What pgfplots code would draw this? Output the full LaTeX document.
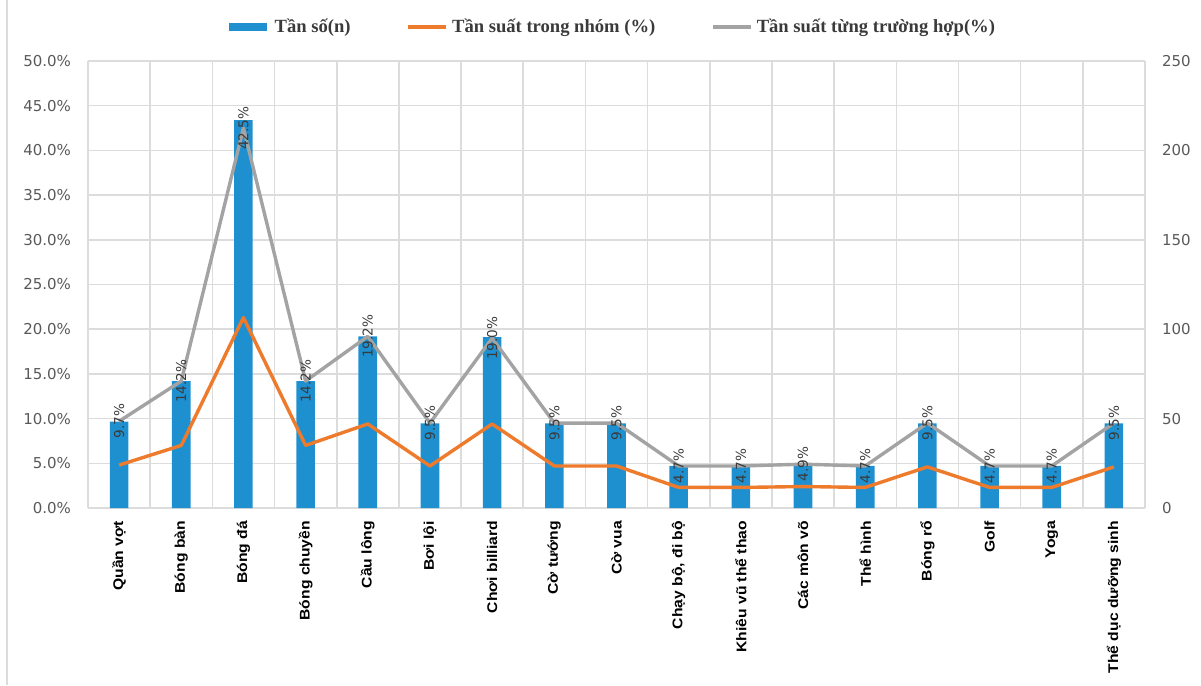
\documentclass[border=0pt]{standalone}
\usepackage{fontspec}
\usepackage{pgfplots}
\usepackage{pgfplotstable}
\pgfplotsset{compat=1.18}
\newfontfamily\ticksfont{DejaVu Sans}
\newfontfamily\xlabfont[FakeStretch=1.12]{Liberation Sans}
\newfontfamily\legfont{Liberation Serif}
\definecolor{barblue}{HTML}{1E90D0}
\definecolor{lineorange}{HTML}{EE7A2C}
\definecolor{linegrey}{HTML}{A3A3A3}
\definecolor{gridc}{HTML}{DCDCDC}
\definecolor{tickc}{HTML}{595959}
\definecolor{labc}{HTML}{3A3A3A}

\pgfplotstableread{
x n org grey
0 48.3 4.8 9.7
1 71.0 7.0 14.2
2 217.0 21.3 42.5
3 71.0 7.0 14.2
4 96.0 9.4 19.2
5 47.4 4.7 9.5
6 95.5 9.4 19.0
7 47.4 4.7 9.5
8 47.4 4.7 9.5
9 23.5 2.3 4.7
10 23.5 2.3 4.7
11 24.5 2.4 4.9
12 23.5 2.3 4.7
13 47.4 4.6 9.5
14 23.5 2.3 4.7
15 23.5 2.3 4.7
16 47.4 4.6 9.5
}\data

\begin{document}
\begin{tikzpicture}
\begin{axis}[
  name=ax,
  scale only axis, width=528.5pt, height=223.5pt,
  xmin=-0.5, xmax=16.5, ymin=0, ymax=250,
  axis y line*=right, axis x line*=bottom,
  axis line style={draw=none},
  ytick={0,50,...,250},
  minor y tick num=1,
  ymajorgrids, yminorgrids,
  xtick=data,
  minor xtick={-0.5,0.5,...,16.5},
  xminorgrids,
  major grid style={gridc, line width=0.8pt},
  minor grid style={gridc, line width=0.8pt},
  major tick length=0pt, minor tick length=0pt,
  /pgf/number format/assume math mode=true,
  yticklabel style={font=\ticksfont\fontsize{7.5}{9}\selectfont, text=tickc, xshift=5pt},
  xticklabels={Quần vợt, Bóng bàn, Bóng đá, Bóng chuyền, Cầu lông, Bơi lội, Chơi billiard, Cờ tướng, Cờ vua, {Chạy bộ, đi bộ}, Khiêu vũ thể thao, Các môn võ, Thể hình, Bóng rổ, Golf, Yoga, Thể dục dưỡng sinh},
  xticklabel style={rotate=90, anchor=east, font=\xlabfont\bfseries\fontsize{7}{8}\selectfont, text=black, yshift=0pt, xshift=-3pt},
]
\addplot[ybar, bar width=9.3pt, fill=barblue, draw=none] table[x=x, y=n] {\data};
\end{axis}
\begin{axis}[
  scale only axis, width=528.5pt, height=223.5pt,
  xmin=-0.5, xmax=16.5, ymin=0, ymax=50,
  axis y line*=left, axis x line=none,
  axis line style={draw=none},
  ytick={0,5,...,50},
  major tick length=0pt,
  /pgf/number format/assume math mode=true,
  yticklabel={\pgfmathprintnumber[fixed,fixed zerofill,precision=1]{\tick}\%},
  yticklabel style={font=\ticksfont\fontsize{7.5}{9}\selectfont, text=tickc, xshift=-5pt},
  legend columns=3,
  legend style={at={(0.496,1.076)}, anchor=center, draw=none, fill=none,
    font=\legfont\bfseries\fontsize{9.3}{11}\selectfont, text=labc,
    /tikz/every even column/.append style={column sep=26pt}},
  legend image code/.code={\draw[#1] (0pt,0pt) -- (19pt,0pt);},
]
\addlegendimage{barblue, line width=3.6pt}
\addlegendentry{Tần số(n)}
\addplot[lineorange, line width=1.7pt, line join=round] table[x=x, y=org] {\data};
\addlegendentry{Tần suất trong nhóm (\%)}
\addplot[linegrey, line width=1.7pt, line join=round,
  nodes near coords={\pgfmathprintnumber[fixed,fixed zerofill,precision=1]{\pgfplotspointmeta}\%},
  point meta=y,
  every node near coord/.append style={rotate=90, anchor=center, inner sep=0pt,
    font=\ticksfont\fontsize{6.8}{8}\selectfont, text=labc}
] table[x=x, y=grey] {\data};
\addlegendentry{Tần suất từng trường hợp(\%)}
\end{axis}
\draw[gridc, line width=0.6pt] (ax.south west) ++(-40.5pt,-88.5pt) -- ++(0,342.5pt);
\pgfresetboundingbox
\path (ax.south west) ++(-44pt,-88.5pt) rectangle (ax.north east) ++(28pt,30.5pt);
\end{tikzpicture}
\end{document}
